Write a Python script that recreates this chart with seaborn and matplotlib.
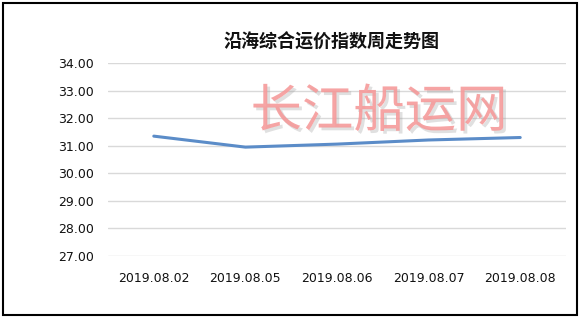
import matplotlib
matplotlib.use("Agg")
import matplotlib.pyplot as plt
import matplotlib.patheffects as pe
from matplotlib.patches import Rectangle
import seaborn as sns
import pandas as pd

dates = ["2019.08.02", "2019.08.05", "2019.08.06", "2019.08.07", "2019.08.08"]
values = [31.35, 30.95, 31.06, 31.21, 31.30]
yticks = [27, 28, 29, 30, 31, 32, 33, 34]
title = "沿海综合运价指数周走势图"
watermark = "长江船运网"

sns.set_theme(style="white")
plt.rcParams['font.family'] = ['DejaVu Sans', 'Noto Sans CJK SC']

fig = plt.figure(figsize=(5.8, 3.19), dpi=100)
ax = fig.add_axes([0.1862, 0.1984, 0.7897, 0.6032])

df = pd.DataFrame({"date": dates, "value": values})
df["pos"] = range(len(dates))
sns.lineplot(data=df, x="pos", y="value", ax=ax, color="#5b8cc8", linewidth=2.2, sort=False)

ax.set_xlim(-0.5, len(dates) - 0.5)
ax.set_ylim(27, 34)
ax.set_yticks(yticks)
ax.set_yticklabels([f"{v:.2f}" for v in yticks], fontsize=9, color="#111111")
ax.set_xticks(range(len(dates)))
ax.set_xticklabels(dates, fontsize=9, color="#111111")
ax.tick_params(axis="y", length=0, pad=10)
ax.tick_params(axis="x", length=0, pad=12)
ax.set_xlabel("")
ax.set_ylabel("")
ax.grid(axis="y", color="#d9d9d9", linewidth=1)
ax.grid(axis="x", visible=False)
for s in ax.spines.values():
    s.set_visible(False)

fig.text(332 / 580, 1 - 42 / 319, title, ha="center", va="center",
         fontsize=13, fontweight="bold", family=["Noto Sans CJK SC", "DejaVu Sans"], color="#111111")

fig.text(379 / 580, 1 - 112 / 319, watermark, ha="center", va="center",
         fontsize=37, family=["Noto Sans CJK SC"], color="#f59a9a", alpha=0.9,
         path_effects=[pe.withSimplePatchShadow(offset=(2, -2), shadow_rgbFace="#999999", alpha=0.3)],
         zorder=0)

fig.patches.append(Rectangle((3 / 580, 4 / 319), 574 / 580, 312 / 319, transform=fig.transFigure,
                             fill=False, edgecolor="black", linewidth=1.5))

fig.savefig("out.png", dpi=100)
